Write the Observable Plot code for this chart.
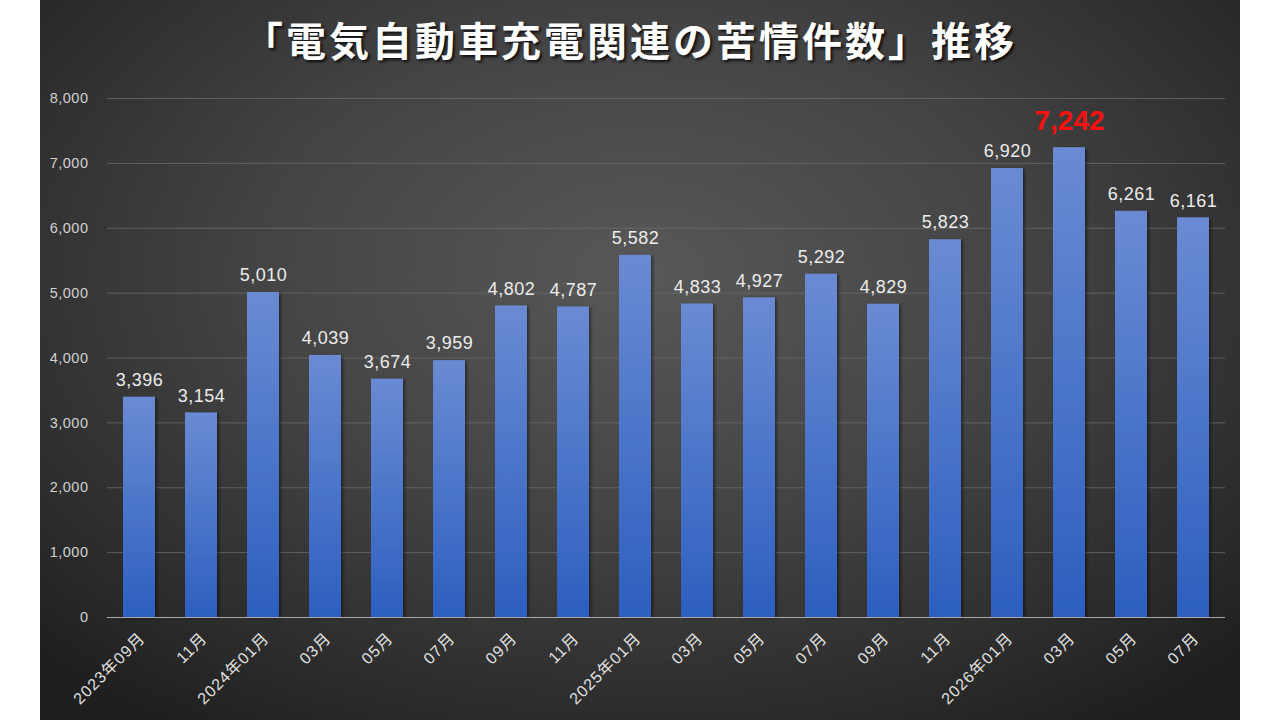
<!DOCTYPE html>
<html>
<head>
<meta charset="utf-8">
<script src="https://cdn.jsdelivr.net/npm/d3@7"></script>
<script src="https://cdn.jsdelivr.net/npm/@observablehq/plot@0.6"></script>
<style>
  html, body { margin: 0; padding: 0; background: #ffffff; width: 1280px; height: 720px; overflow: hidden; }
  #panel {
    position: absolute; left: 40px; top: 0; width: 1200px; height: 720px;
    background: radial-gradient(ellipse 70% 75% at 50% 38%, #585858 0%, #444 45%, #2a2a2a 85%, #1f1f1f 100%);
    font-family: "Noto Sans CJK JP", "Noto Sans", sans-serif;
  }
  #title {
    position: absolute; left: -10px; top: 10px; width: 1200px; text-align: center;
    color: #ffffff; font-size: 40px; font-weight: 700; letter-spacing: 3px;
    text-shadow: 2px 2px 3px rgba(0,0,0,0.8);
  }
  #chart { position: absolute; left: 0; top: 0; }
  .lbl text { letter-spacing: 0.5px; }
  .xl text { letter-spacing: 1px; }
</style>
</head>
<body>
<div id="panel">
  <div id="chart"></div>
  <div id="title">「電気自動車充電関連の苦情件数」推移</div>
</div>
<script>
const months = ["2023年09月","11月","2024年01月","03月","05月","07月","09月","11月","2025年01月","03月","05月","07月","09月","11月","2026年01月","03月","05月","07月"];
const counts = [3396,3154,5010,4039,3674,3959,4802,4787,5582,4833,4927,5292,4829,5823,6920,7242,6261,6161];
const yTicks = [0,1000,2000,3000,4000,5000,6000,7000,8000];
const highlightIndex = 15;

const rows = counts.map((v, i) => ({i, label: months[i], value: v}));
const normal = rows.filter(d => d.i !== highlightIndex);
const peak = rows.filter(d => d.i === highlightIndex);
const fmt = d3.format(",");
const latin = "'Liberation Sans', Arial, 'Noto Sans CJK JP', sans-serif";

const defs = () => {
  const ns = "http://www.w3.org/2000/svg";
  const g = document.createElementNS(ns, "defs");
  g.innerHTML = `
    <linearGradient id="barGrad" x1="0" y1="0" x2="0" y2="1">
      <stop offset="0%" stop-color="#6a8bd3"/>
      <stop offset="100%" stop-color="#2d5fbf"/>
    </linearGradient>
    <filter id="barShadow" x="-20%" y="-5%" width="150%" height="110%">
      <feDropShadow dx="2" dy="1" stdDeviation="1.5" flood-color="#000" flood-opacity="0.45"/>
    </filter>`;
  return g;
};

const chart = Plot.plot({
  width: 1200,
  height: 720,
  marginLeft: 67,
  marginRight: 15,
  marginTop: 98,
  marginBottom: 103,
  style: { background: "transparent", fontFamily: latin, overflow: "visible" },
  x: { domain: rows.map(d => d.i), padding: 0, label: null, axis: null },
  y: { domain: [0, 8000], label: null, axis: null },
  marks: [
    defs,
    Plot.gridY(yTicks, { stroke: "#6a6a6a", strokeOpacity: 0.8, strokeWidth: 1 }),
    Plot.barY(rows, { x: "i", y: "value", insetLeft: 15, insetRight: 15, fill: "url(#barGrad)", render: (index, scales, values, dims, ctx, next) => { const g = next(index, scales, values, dims, ctx); g.setAttribute("filter", "url(#barShadow)"); return g; } }),
    Plot.ruleY([0], { stroke: "#a8a8a8", strokeWidth: 1.2 }),
    Plot.text(yTicks, { y: d => d, text: d => fmt(d), frameAnchor: "left", textAnchor: "end", dx: -19, fill: "#d0d0d0", fontSize: 14.5, className: "lbl" }),
    Plot.text(rows, { x: "i", y: 0, text: d => months[d.i], rotate: -45, textAnchor: "end", dx: 3, dy: 18, fill: "#e0e0e0", fontSize: 16, className: "xl" }),
    Plot.text(normal, { x: "i", y: "value", text: d => fmt(d.value), dy: -17, fill: "#ececec", fontSize: 18, className: "lbl" }),
    Plot.text(peak, { x: "i", y: "value", text: d => fmt(d.value), dy: -27, fill: "#ff1010", fontSize: 28, fontWeight: "bold" })
  ]
});
document.getElementById("chart").appendChild(chart);
</script>
</body>
</html>
